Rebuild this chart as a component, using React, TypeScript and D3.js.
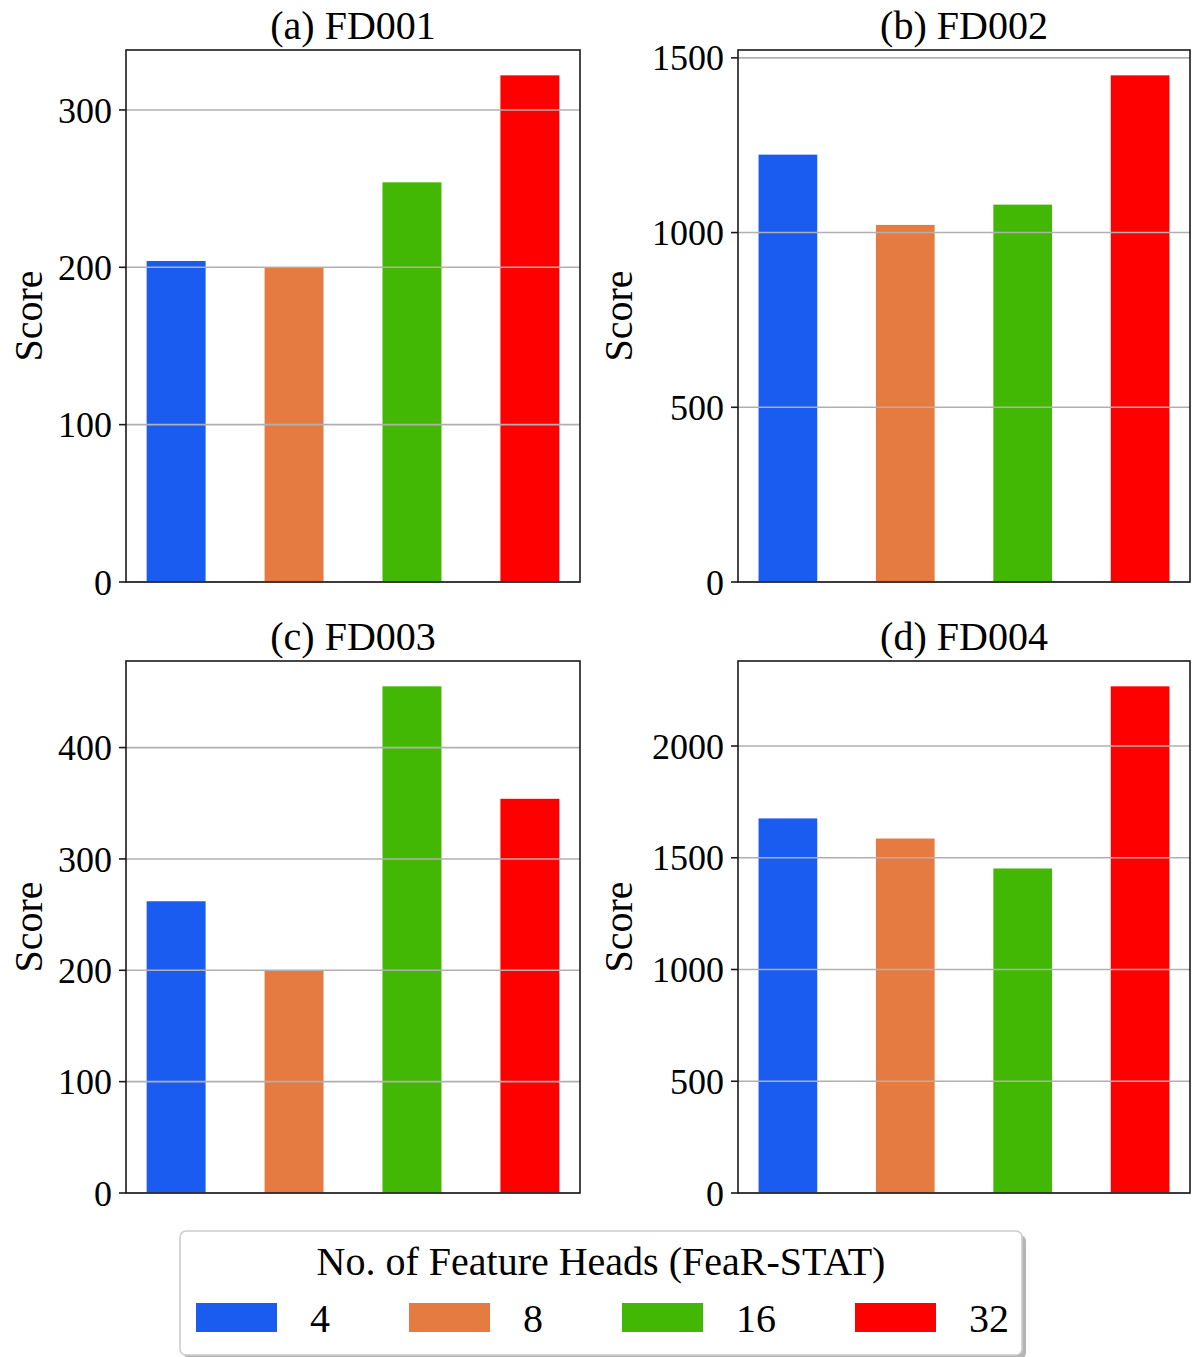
import React from "react";
import * as d3 from "d3";

const categories = ["4", "8", "16", "32"];
const colors = ["#1a5cf0", "#e67b42", "#42b805", "#ff0000"];

const fd001 = [204, 200, 254, 322];
const fd002 = [1223, 1022, 1080, 1450];
const fd003 = [262, 200, 455, 354];
const fd004 = [1676, 1586, 1452, 2267];

const ticks001 = [0, 100, 200, 300];
const ticks002 = [0, 500, 1000, 1500];
const ticks003 = [0, 100, 200, 300, 400];
const ticks004 = [0, 500, 1000, 1500, 2000];

const titles = ["(a) FD001", "(b) FD002", "(c) FD003", "(d) FD004"];
const legendTitle = "No. of Feature Heads (FeaR-STAT)";
const yLabel = "Score";

const FONT = "Liberation Serif";

const panels = [
  { title: titles[0], values: fd001, ticks: ticks001, x0: 126, x1: 580, y0: 50, y1: 582 },
  { title: titles[1], values: fd002, ticks: ticks002, x0: 738, x1: 1190, y0: 50, y1: 582 },
  { title: titles[2], values: fd003, ticks: ticks003, x0: 126, x1: 580, y0: 661, y1: 1193 },
  { title: titles[3], values: fd004, ticks: ticks004, x0: 738, x1: 1190, y0: 661, y1: 1193 },
];

const txt = (size: number) => ({ fontFamily: FONT, fontSize: size + "px" });

function Panel({ p }: { p: any }) {
  const n = p.values.length;
  const barW = 0.5;
  const lo = -barW / 2;
  const hi = n - 1 + barW / 2;
  const pad = (hi - lo) * 0.05;
  const x = d3.scaleLinear().domain([lo - pad, hi + pad]).range([p.x0, p.x1]);
  const ymax = (d3.max(p.values as number[]) as number) * 1.05;
  const y = d3.scaleLinear().domain([0, ymax]).range([p.y1, p.y0]);
  const maxChars = d3.max(p.ticks as number[], (t) => String(t).length) as number;
  const labelOffset = 84 + (maxChars - 3) * 22;
  return (
    <g>
      {p.values.map((v: number, i: number) => (
        <rect
          key={i}
          x={x(i - barW / 2)}
          y={y(v)}
          width={x(i + barW / 2) - x(i - barW / 2)}
          height={y(0) - y(v)}
          fill={colors[i]}
        />
      ))}
      {p.ticks.map((t: number) => (
        <line key={"g" + t} x1={p.x0} x2={p.x1} y1={y(t)} y2={y(t)} stroke="#b0b0b0" strokeWidth={1.6} />
      ))}
      <rect x={p.x0} y={p.y0} width={p.x1 - p.x0} height={p.y1 - p.y0} fill="none" stroke="#1a1a1a" strokeWidth={1.6} />
      {p.ticks.map((t: number) => (
        <g key={"t" + t}>
          <line x1={p.x0 - 7} x2={p.x0} y1={y(t)} y2={y(t)} stroke="#1a1a1a" strokeWidth={1.6} />
          <text x={p.x0 - 14} y={y(t)} dy="0.35em" textAnchor="end" style={txt(36)} fill="#000">
            {t}
          </text>
        </g>
      ))}
      <text x={(p.x0 + p.x1) / 2} y={p.y0 - 11} textAnchor="middle" style={txt(40)} fill="#000">
        {p.title}
      </text>
      <text
        transform={`translate(${p.x0 - labelOffset},${(p.y0 + p.y1) / 2}) rotate(-90)`}
        textAnchor="middle"
        style={txt(40)}
        fill="#000"
      >
        {yLabel}
      </text>
    </g>
  );
}

function Legend() {
  const lx = 180, ly = 1231, lw = 842, lh = 124;
  let cx = 196;
  const items = categories.map((c, i) => {
    const px = cx;
    const tx = px + 81 + 33;
    cx = tx + c.length * 20 + 79;
    return (
      <g key={c}>
        <rect x={px} y={1303} width={81} height={29} fill={colors[i]} />
        <text x={tx} y={1332} style={txt(40)} fill="#000">
          {c}
        </text>
      </g>
    );
  });
  return (
    <g>
      <rect x={lx + 4} y={ly + 4} width={lw} height={lh} rx={6} fill="#b5b5b5" />
      <rect x={lx} y={ly} width={lw} height={lh} rx={6} fill="#fff" stroke="#cccccc" strokeWidth={1.6} />
      <text x={601} y={1275} textAnchor="middle" style={txt(40)} fill="#000">
        {legendTitle}
      </text>
      {items}
    </g>
  );
}

export default function App() {
  return (
    <svg
      width={1194}
      height={1357}
      style={{ position: "absolute", left: 0, top: 0, background: "#fff" }}
    >
      <rect width={1194} height={1357} fill="#fff" />
      {panels.map((p, i) => (
        <Panel key={i} p={p} />
      ))}
      <Legend />
    </svg>
  );
}
